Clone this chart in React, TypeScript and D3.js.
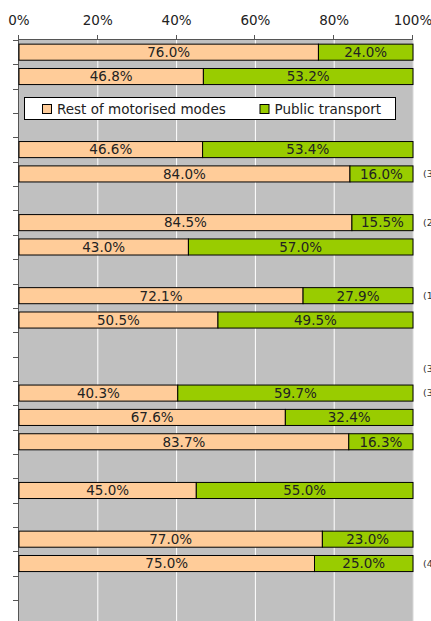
import React from 'react';
import * as d3 from 'd3';

const restShare: (number | null)[] = [76.0, 46.8, null, null, 46.6, 84.0, null, 84.5, 43.0, null, 72.1, 50.5, null, null, 40.3, 67.6, 83.7, null, 45.0, null, 77.0, 75.0, null, null];
const publicShare: (number | null)[] = [24.0, 53.2, null, null, 53.4, 16.0, null, 15.5, 57.0, null, 27.9, 49.5, null, null, 59.7, 32.4, 16.3, null, 55.0, null, 23.0, 25.0, null, null];
const notes: string[] = ['', '', '', '', '', '(3)', '', '(2)', '', '', '(1)', '', '', '(3)', '(3)', '', '', '', '', '', '', '(4)', '', ''];
const xTicks = [0, 20, 40, 60, 80, 100];
const seriesNames = ['Rest of motorised modes', 'Public transport'];
const seriesColors = ['#FFCC99', '#99CC00'];

const W = 431;
const H = 621;
const FONT = '"DejaVu Sans", Verdana, sans-serif';

export default function App() {
  const rowIds = restShare.map((_, i) => String(i));
  const x = d3.scaleLinear().domain([0, 100]).range([19, 413]);
  const y = d3
    .scaleBand<string>()
    .domain(rowIds)
    .range([40, 40 + rowIds.length * 24.35])
    .paddingInner(0.34)
    .paddingOuter(0.17);
  const step = y.step();
  const plotTop = 40;
  const plotBottom = 40 + rowIds.length * step;
  const fmt = (v: number) => v.toFixed(1) + '%';

  return (
    <svg width={W} height={H} style={{ position: 'fixed', left: 0, top: 0, background: '#fff' }} fontFamily={FONT}>
      {/* plot background */}
      <rect x={x(0)} y={plotTop} width={x(100) - x(0)} height={plotBottom - plotTop} fill="#C0C0C0" />
      {/* gridlines */}
      {xTicks.slice(1, -1).map((t) => (
        <line key={'g' + t} x1={x(t)} x2={x(t)} y1={plotTop} y2={plotBottom} stroke="#fff" strokeWidth={1} />
      ))}
      <line x1={x(100)} x2={x(100)} y1={plotTop} y2={plotBottom} stroke="#d8d8d8" strokeWidth={1} />
      {/* top axis */}
      <line x1={x(0)} x2={x(100)} y1={39.5} y2={39.5} stroke="#555" strokeWidth={1} />
      {xTicks.map((t) => (
        <g key={'t' + t}>
          <line x1={Math.round(x(t)) - 0.5} x2={Math.round(x(t)) - 0.5} y1={35} y2={40} stroke="#555" strokeWidth={1} />
          <text x={x(t)} y={24.5} textAnchor="middle" fontSize={13.5} fill="#222">
            {t + '%'}
          </text>
        </g>
      ))}
      {/* left axis */}
      <line x1={18.5} x2={18.5} y1={35} y2={plotBottom} stroke="#555" strokeWidth={1} />
      {d3.range(rowIds.length + 1).map((i) => (
        <line key={'lt' + i} x1={13} x2={19} y1={Math.round(plotTop + i * step) + 0.5} y2={Math.round(plotTop + i * step) + 0.5} stroke="#555" strokeWidth={1} />
      ))}
      {/* bars */}
      {rowIds.map((id, i) => {
        const r = restShare[i];
        const p = publicShare[i];
        if (r == null || p == null) return null;
        const y0 = y(id)!;
        const bh = y.bandwidth();
        const segs = [
          { v: r, s: 0, c: seriesColors[0] },
          { v: p, s: r, c: seriesColors[1] },
        ];
        return (
          <g key={'b' + id}>
            {segs.map((sg, j) => (
              <g key={j}>
                <rect x={x(sg.s)} y={y0} width={x(sg.s + sg.v) - x(sg.s)} height={bh} fill={sg.c} stroke="#000" strokeWidth={1} />
                <text x={x(sg.s + sg.v / 2)} y={y0 + bh / 2} dy="0.36em" textAnchor="middle" fontSize={13.5} fill="#222">
                  {fmt(sg.v)}
                </text>
              </g>
            ))}
          </g>
        );
      })}
      {/* notes */}
      {rowIds.map((id, i) =>
        notes[i] ? (
          <text key={'n' + id} x={423} y={y(id)! + y.bandwidth() / 2} dy="0.35em" fontSize={9.5} fill="#333">
            {notes[i]}
          </text>
        ) : null
      )}
      {/* legend */}
      <g>
        <rect x={24.5} y={97.5} width={371} height={22} fill="#fff" stroke="#000" strokeWidth={1} />
        {seriesNames.map((name, i) => {
          const lx = i === 0 ? 42 : 259.5;
          return (
            <g key={'l' + i}>
              <rect x={lx + 0.5} y={104.5} width={9} height={9} fill={seriesColors[i]} stroke="#000" strokeWidth={1} />
              <text x={lx + 15} y={113.5} fontSize={13.5} fill="#222">
                {name}
              </text>
            </g>
          );
        })}
      </g>
    </svg>
  );
}
